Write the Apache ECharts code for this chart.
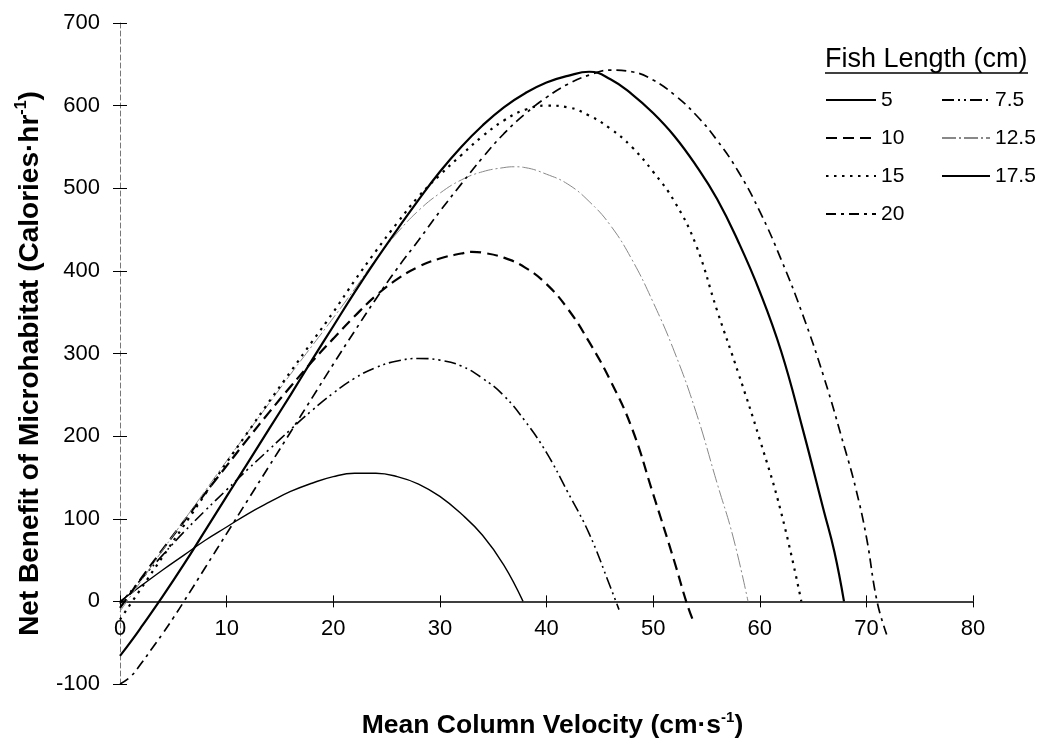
<!DOCTYPE html>
<html><head><meta charset="utf-8">
<script src="https://cdn.jsdelivr.net/npm/echarts@6/dist/echarts.min.js"></script>
<style>html,body{margin:0;padding:0;background:#fff}#c{width:1047px;height:742px}</style>
</head><body><div id="c"></div>
<script>
// ---- data ----
const seriesNames = ['5', '7.5', '10', '12.5', '15', '17.5', '20'];
const legendLeftCol = ['5', '10', '15', '20'];
const legendRightCol = ['7.5', '12.5', '17.5'];
const xAxisRange = [0, 80, 10];
const yAxisRange = [-100, 700, 100];

const vel5 = [0,2,4,6,8,10,12,14,16,18,20,22,24,26,28,30,32,34,36,37.8];
const nb5  = [0,19,38,56,74,90,106,120,133,143,151,155,155,151,142,127,106,80,44,0];

const vel75 = [0,2,4,6,8,10,12,14,16,18,20,22,24,26,28,30,32,34,36,38,40,42,44,46,46.8];
const nb75  = [-3,27,56,84,110,135,160,184,208,231,252,270,283,291,294,292,285,270,249,218,180,132,82,17,-10];

const vel10 = [0,2,4,6,8,10,12,14,16,18,20,22,24,26,28,30,32,33,34,36,38,40,42,44,46,48,50,52,53.1,53.8];
const nb10  = [-8,28,63,97,131,164,197,229,260,290,318,345,370,390,405,415,421,423,422,416,404,384,354,314,267,210,130,48,0,-25];

const vel125 = [0,2,4,6,8,10,12,14,16,18,20,22,24,26,28,30,32,34,36,37,38,40,42,44,46,48,50,52,54,56,57.5,58.9];
const nb125  = [-12,25,62,98,134,170,205,240,275,309,343,378,414,446,473,494,510,520,525,526,525,517,505,484,455,414,362,302,230,143,78,0];

const vel15 = [0,2,4,6,8,10,12,14,16,18,20,22,24,26,28,30,32,34,36,38,40,42,44,46,48,50,52,54,56,58,60,62,63.9];
const nb15  = [-22,16,54,92,130,168,205,242,278,314,350,388,424,458,490,516,540,563,582,595,600,598,588,572,550,520,484,432,352,276,196,108,0];

const vel175 = [0,1,2,4,6,8,10,12,14,16,18,20,22,24,26,28,30,32,34,36,38,40,42,44,46,48,50,52,54,56,58,60,62,64,66,67,67.9];
const nb175  = [-66,-49,-31,6,45,86,127,168,209,250,292,333,374,413,450,486,520,550,576,598,615,628,636,641,632,614,591,563,528,487,435,375,303,210,110,60,0];

const vel20 = [0,1,2,3,4,5,6,8,10,12,14,16,18,20,22,24,26,28,30,32,34,36,38,40,42,44,46,48,50,52,54,56,58,60,62,64,66,68,69,70,71,71.9];
const nb20  = [-100,-91,-75,-57,-39,-20,0,41,82,123,164,205,246,287,327,366,403,437,472,505,537,566,590,610,626,637,643,641,631,613,589,558,520,472,414,348,272,184,137,78,0,-40];

const velocities = [vel5, vel75, vel10, vel125, vel15, vel175, vel20];
const benefits = [nb5, nb75, nb10, nb125, nb15, nb175, nb20];

// ---- styles ----
const FONT = '"Liberation Sans", Arial, Helvetica, sans-serif';
const lineStyles = {
  '5':    { color: '#000', width: 1.4, type: 'solid' },
  '7.5':  { color: '#000', width: 1.6, type: [12, 4, 2, 4, 2, 4] },
  '10':   { color: '#000', width: 2.2, type: [11, 6] },
  '12.5': { color: '#888', width: 1.0, type: [14, 3, 2, 3] },
  '15':   { color: '#000', width: 2.2, type: [2.5, 5.5] },
  '17.5': { color: '#000', width: 2.2, type: 'solid' },
  '20':   { color: '#000', width: 1.7, type: [10, 5, 3, 5] }
};

const series = seriesNames.map((name, i) => ({
  name: name,
  type: 'line',
  smooth: 0.45,
  symbol: 'none',
  showSymbol: false,
  color: lineStyles[name].color,
  lineStyle: lineStyles[name],
  data: velocities[i].map((v, j) => [v, benefits[i][j]]),
  z: 3
}));

function titleRich(size) {
  return {
    t: { fontSize: size, fontWeight: 'bold', fontFamily: FONT, color: '#000', lineHeight: size + 4 },
    s: { fontSize: Math.round(size * 0.58), fontWeight: 'bold', fontFamily: FONT, color: '#000', verticalAlign: 'top', lineHeight: size + 4 }
  };
}

const legendCommon = {
  orient: 'vertical',
  top: 89,
  padding: 0,
  itemHeight: 14,
  itemGap: 16,
  selectedMode: false,
  itemStyle: { opacity: 0 },
  textStyle: { fontSize: 21, color: '#000', fontFamily: FONT, lineHeight: 22 }
};

const chart = echarts.init(document.getElementById('c'), null, { renderer: 'canvas' });
chart.setOption({
  backgroundColor: '#fff',
  animation: false,
  grid: { left: 120, right: 74, top: 23, bottom: 58, containLabel: false, outerBoundsMode: 'none' },
  legend: [
    Object.assign({ data: legendLeftCol, left: 825, itemWidth: 50 }, legendCommon),
    Object.assign({ data: legendRightCol, left: 941, itemWidth: 48 }, legendCommon)
  ],
  graphic: [
    { type: 'text', left: 825, top: 46,
      style: { text: 'Fish Length (cm)', fontSize: 27, fontFamily: FONT, fill: '#000' } },
    { type: 'line', shape: { x1: 825, y1: 73, x2: 1028, y2: 73 },
      style: { stroke: '#000', lineWidth: 1.5 } }
  ],
  xAxis: [
    {
      type: 'value', min: xAxisRange[0], max: xAxisRange[1], interval: xAxisRange[2],
      position: 'bottom',
      axisLine: { show: true, onZero: true, onZeroAxisIndex: 0, lineStyle: { color: '#000', width: 1.5 } },
      axisTick: { show: true, length: 6, lineStyle: { color: '#000', width: 1 } },
      axisLabel: { fontSize: 22, color: '#000', margin: -66, fontFamily: FONT },
      splitLine: { show: false },
      name: '{t|Mean Column Velocity (cm·s}{s|-1}{t|)}',
      nameLocation: 'middle', nameGap: 26,
      nameTextStyle: { rich: titleRich(26.5), padding: [0, 0, 0, 12] }
    },
    {
      type: 'value', min: xAxisRange[0], max: xAxisRange[1], interval: xAxisRange[2],
      position: 'bottom',
      axisLine: { show: false, onZero: true, onZeroAxisIndex: 0 },
      axisTick: { show: true, inside: true, length: 6, lineStyle: { color: '#000', width: 1 } },
      axisLabel: { show: false },
      splitLine: { show: false }
    }
  ],
  yAxis: [
    {
      type: 'value', min: yAxisRange[0], max: yAxisRange[1], interval: yAxisRange[2],
      position: 'left',
      axisLine: { show: true, onZero: false, lineStyle: { color: '#777', width: 1, type: [5, 3] } },
      axisTick: { show: true, length: 7, lineStyle: { color: '#000', width: 1 } },
      axisLabel: { fontSize: 22, color: '#000', margin: 20, fontFamily: FONT },
      splitLine: { show: false },
      name: '{t|Net Benefit of Microhabitat (Calories·hr}{s|-1}{t|)}',
      nameLocation: 'middle', nameGap: 74,
      nameTextStyle: { rich: titleRich(28), padding: [0, 20, 0, 0] }
    },
    {
      type: 'value', min: yAxisRange[0], max: yAxisRange[1], interval: yAxisRange[2],
      position: 'left',
      axisLine: { show: false, onZero: false },
      axisTick: { show: true, inside: true, length: 7, lineStyle: { color: '#000', width: 1 } },
      axisLabel: { show: false },
      splitLine: { show: false }
    }
  ],
  series: series
});
</script>
</body></html>
